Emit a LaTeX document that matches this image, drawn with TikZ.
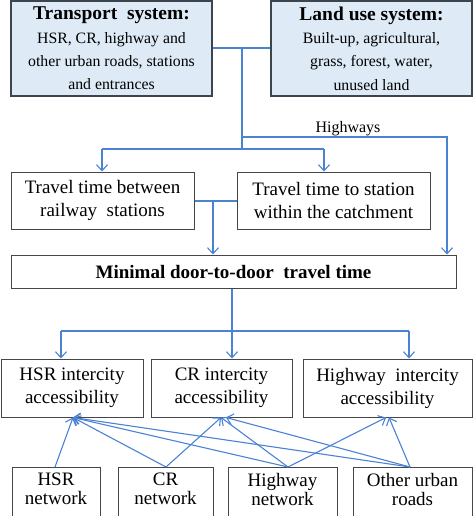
\documentclass[tikz,border=0pt]{standalone}
\usepackage{fontspec}
\setmainfont{Liberation Serif}
\usetikzlibrary{arrows.meta,calc}
\definecolor{arrblue}{RGB}{74,130,212}
\definecolor{topfill}{RGB}{222,235,247}
\definecolor{topdraw}{RGB}{60,68,78}
\definecolor{boxdraw}{RGB}{70,70,70}
\tikzset{
  topbox/.style={draw=topdraw,line width=1.6pt,fill=topfill,align=center,inner sep=0pt,
     font=\fontsize{15.8}{23.3}\selectfont},
  plainbox/.style={draw=boxdraw,line width=1pt,fill=white,align=center,inner sep=0pt,
     font=\fontsize{19}{23}\selectfont},
  nettext/.style={align=center,inner sep=0pt,font=\fontsize{19}{19}\selectfont},
  conn/.style={draw=arrblue,line width=1.1pt},
  arr/.style={conn,-{Straight Barb[length=6pt,width=11pt,line width=1.1pt]}},
}
\begin{document}
\begin{tikzpicture}[x=1pt,y=-1pt]
\useasboundingbox (0,0) rectangle (474,516);
\clip (0,0) rectangle (474,516);
% top boxes
\node[topbox,minimum width=201,minimum height=95] (trans) at (111.5,48.5)
  {\textbf{\fontsize{19.5}{23.3}\selectfont Transport\ \ system:}\\HSR, CR, highway and\\other urban roads, stations\\and entrances};
\node[topbox,minimum width=201,minimum height=95] (land) at (371.5,48.5)
  {\textbf{\fontsize{19.5}{23.3}\selectfont Land\ use system:}\\Built-up, agricultural,\\grass, forest, water,\\unused land};
% middle boxes
\node[plainbox,minimum width=183,minimum height=57] (between) at (102.5,200.5)
  {Travel time between\\railway\ \ stations};
\node[plainbox,minimum width=193,minimum height=57] (station) at (333.5,200.5)
  {Travel time to station\\within the catchment};
\node[plainbox,minimum width=445,minimum height=33] (minimal) at (233.5,271.5)
  {\textbf{Minimal door-to-door\ \ travel time}};
% accessibility boxes
\node[plainbox,minimum width=142,minimum height=58] (hsra) at (72,388)
  {HSR intercity\\accessibility};
\node[plainbox,minimum width=141,minimum height=58] (cra) at (221.5,388)
  {CR intercity\\accessibility};
\node[plainbox,minimum width=169,minimum height=58] (hwa) at (387.5,388)
  {Highway\ \ intercity\\accessibility};
% network boxes (cut by the bottom edge)
\draw[boxdraw,line width=1pt] (12,467) rectangle (100,530);
\draw[boxdraw,line width=1pt] (118,467) rectangle (213,530);
\draw[boxdraw,line width=1pt] (228,467) rectangle (337,530);
\draw[boxdraw,line width=1pt] (353,467) rectangle (472,530);
\node[nettext] (hsrn) at (56,489) {HSR\\network};
\node[nettext] (crn) at (165.5,489) {CR\\network};
\node[nettext] (hwn) at (282.5,489) {Highway\\network};
\node[nettext] (urbn) at (412.5,489) {Other urban\\roads};
% junction coordinates
\coordinate (j1) at (242,48);
\coordinate (j2) at (242,137);
\coordinate (j3) at (242,149);
\coordinate (hwy) at (447,137);
\coordinate (bl) at (102,149);
\coordinate (br) at (324,149);
\coordinate (m1) at (213,201);
\coordinate (m2) at (232,331);
\coordinate (al) at (61,331);
\coordinate (ar) at (409,331);
% top connectors
\draw[conn] (trans.east |- j1) -- (land.west |- j1);
\draw[conn] (j1) -- (j3);
\draw[arr] (j2) -- (hwy) -- (hwy |- minimal.north);
\node[font=\fontsize{16}{16}\selectfont,anchor=base] (hwlabel) at (348,132) {Highways};
\draw[conn] (bl) -- (br);
\draw[arr] (bl) -- (bl |- between.north);
\draw[arr] (br) -- (br |- station.north);
% merge
\draw[conn] (between.east |- m1) -- (station.west |- m1);
\draw[arr] (m1) -- (m1 |- minimal.north);
% to accessibility
\draw[conn] (minimal.south -| m2) -- (m2);
\draw[conn] (al) -- (ar);
\draw[arr] (al) -- (al |- hsra.north);
\draw[arr] (m2) -- (m2 |- cra.north);
\draw[arr] (ar) -- (ar |- hwa.north);
% network to accessibility
\coordinate (hsrt) at (73,417.5);
\coordinate (crt) at (221,417.5);
\coordinate (crt2) at (226,417.5);
\coordinate (hwt) at (386,417.5);
\coordinate (hwt2) at (389,417.5);
\draw[arr] (55,467) coordinate (s1) -- (hsrt);
\draw[arr] (166,467) coordinate (s2) -- (hsrt);
\draw[arr] (288,467) coordinate (s3) -- (hsrt);
\draw[arr] (410,467) coordinate (s4) -- (hsrt);
\draw[arr] (s2) -- (crt);
\draw[arr] (s3) -- (crt);
\draw[arr] (s4) -- (crt2);
\draw[arr] (s3) -- (hwt);
\draw[arr] (s4) -- (hwt2);
\end{tikzpicture}
\end{document}
